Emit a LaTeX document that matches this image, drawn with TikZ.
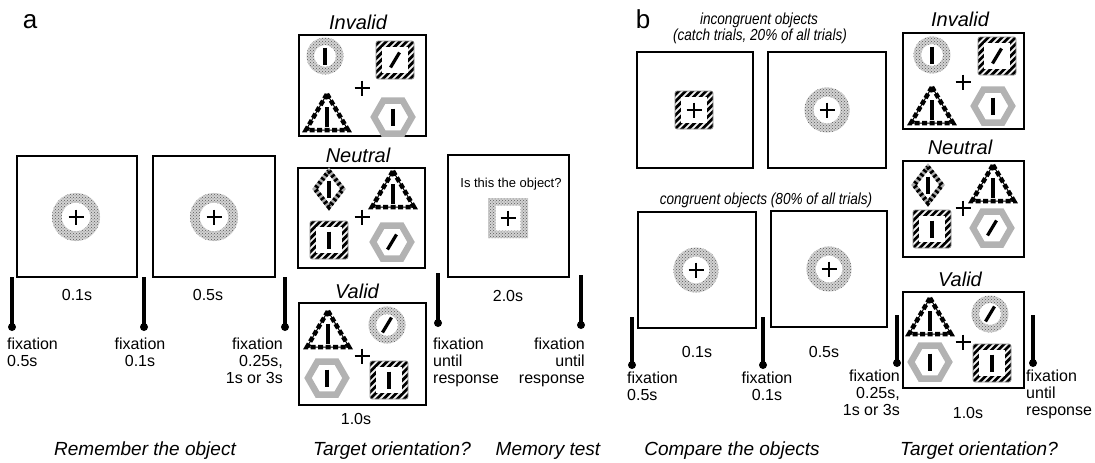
\documentclass[tikz,border=0pt]{standalone}
\usepackage{fontspec}
\setmainfont{Liberation Sans}
\newfontfamily\narrowfont[FakeStretch=0.85]{Liberation Sans}
\usetikzlibrary{patterns}

\tikzset{
  screen/.style={draw, line width=2pt, inner sep=0pt},
  dur/.style={font=\fontsize{16}{17}\selectfont, inner sep=0pt, anchor=base},
  fixtxt/.style={font=\fontsize{16}{17}\selectfont, inner sep=0pt},
  cue/.style={font=\fontsize{20}{22}\selectfont\itshape, inner sep=0pt, anchor=base},
  phase/.style={font=\fontsize{19}{22}\selectfont\itshape, inner sep=0pt, anchor=base},
  note/.style={font=\fontsize{16}{17}\selectfont\narrowfont\itshape, inner sep=0pt, anchor=base},
  fixbar/.style={line width=3.4pt},
  fixdot/.style={circle, fill, inner sep=0pt, minimum size=8pt},
  ringobj/.pic={
    \fill[gray!35, even odd rule] (0,0) circle[radius=18.5pt] (0,0) circle[radius=11pt];
    \fill[pattern=crosshatch dots, pattern color=black!65, even odd rule]
      (0,0) circle[radius=18.5pt] (0,0) circle[radius=11pt];
  },
  stripesq/.pic={
    \begin{scope}
      \clip[rounded corners=2pt] (-19,-19) rectangle (19,19);
      \fill[black!6] (-19,-19) rectangle (19,19);
      \foreach \k in {-6,...,6}
        \draw[line width=2.7pt] (\k*6.8-20,20) -- (\k*6.8+20,-20);
    \end{scope}
    \fill[white] (-13,-13) rectangle (13,13);
    \draw[black!45, line width=0.6pt, rounded corners=2pt] (-19,-19) rectangle (19,19);
  },
  dotsq/.pic={
    \fill[gray!35, even odd rule] (-20,-20) rectangle (20,20) (-12.5,-12.5) rectangle (12.5,12.5);
    \fill[pattern=crosshatch dots, pattern color=black!65, even odd rule]
      (-20,-20) rectangle (20,20) (-12.5,-12.5) rectangle (12.5,12.5);
  },
  triobj/.pic={
    \draw[line width=1pt] (0,-19) -- (21,17) -- (-21,17) -- cycle;
    \draw[line width=4.5pt, dash pattern=on 5pt off 2.5pt] (0,-19) -- (21,17) -- (-21,17) -- cycle;
    \draw[line width=3.2pt] (0,-6) -- (0,14);
  },
  hexobj/.pic={
    \draw[gray!60, line width=6.5pt] (-19,0) -- (-9.5,-16.5) -- (9.5,-16.5) -- (19,0)
      -- (9.5,16.5) -- (-9.5,16.5) -- cycle;
  },
  diaobj/.pic={
    \draw[gray!65, line width=4.5pt] (0,-18) -- (14,0) -- (0,18) -- (-14,0) -- cycle;
    \draw[line width=4.5pt, dash pattern=on 2.5pt off 2.5pt] (0,-18) -- (14,0) -- (0,18) -- (-14,0) -- cycle;
  },
  ibar/.pic={\draw[line width=3.2pt] (0,-8.5) -- (0,8.5);},
  sbar/.pic={\draw[line width=3.2pt] (-4.5,7.5) -- (4.5,-7.5);},
  crossfix/.pic={\draw[line width=1.1pt] (-7.5,0) -- (7.5,0) (0,-7.5) -- (0,7.5);}
}

\begin{document}
\begin{tikzpicture}[x=1pt, y=-1pt]
\useasboundingbox (0,0) rectangle (1095,463);

% ---------------- panel a ----------------
\node[font=\fontsize{26}{28}\selectfont, inner sep=0pt] (la) at (30,22) {a};

% memory screens
\node[screen, minimum width=120pt, minimum height=121pt] (a1) at (77,216.5) {};
\pic[scale=1.3] at (76,217) {ringobj};
\pic at (76,217) {crossfix};
\node[screen, minimum width=122pt, minimum height=121pt] (a2) at (214,216.5) {};
\pic[scale=1.3] at (214,217) {ringobj};
\pic at (214,217) {crossfix};
\node[dur] (ad1) at (77,300) {0.1s};
\node[dur] (ad2) at (208,300) {0.5s};

% Invalid
\node[cue] (ainv) at (358,29) {Invalid};
\node[screen, minimum width=127pt, minimum height=101pt] (ab1) at (362.5,85.5) {};
\pic at (325,56) {ringobj};  \pic at (325,56) {ibar};
\pic at (395,60) {stripesq}; \pic at (395,60) {sbar};
\pic at (327,113) {triobj};
\pic at (393,117) {hexobj};  \pic at (393,117) {ibar};
\pic at (362,88) {crossfix};

% Neutral
\node[cue] (aneu) at (358,162) {Neutral};
\node[screen, minimum width=127pt, minimum height=100pt] (ab2) at (361.5,218) {};
\pic at (329,189) {diaobj};  \pic at (329,189) {ibar};
\pic at (393,190) {triobj};
\pic at (329,240) {stripesq}; \pic at (329,240) {ibar};
\pic at (392,242) {hexobj};  \pic at (392,242) {sbar};
\pic at (362,217) {crossfix};

% Valid
\node[cue] (aval) at (357,298) {Valid};
\node[screen, minimum width=127pt, minimum height=102pt] (ab3) at (362.5,354) {};
\pic at (328,330) {triobj};
\pic at (387,325) {ringobj};  \pic at (387,325) {sbar};
\pic at (327,378) {hexobj};   \pic at (327,378) {ibar};
\pic at (389,380) {stripesq}; \pic at (389,380) {ibar};
\pic at (362,356) {crossfix};
\node[dur] (ad3) at (356,424) {1.0s};

% memory test
\node[screen, minimum width=121pt, minimum height=122pt] (am) at (508.5,216) {};
\node[font=\fontsize{13}{14}\selectfont, inner sep=0pt, anchor=base] (aq) at (511,187) {Is this the object?};
\pic at (508,218) {dotsq};
\pic at (508,218) {crossfix};
\node[dur] (ad4) at (508,301) {2.0s};

% fixation
\coordinate (af1t) at (12,277);  \coordinate (af1b) at (12,327);
\coordinate (af2t) at (144,277); \coordinate (af2b) at (144,327);
\coordinate (af3t) at (285,277); \coordinate (af3b) at (285,327);
\coordinate (af4t) at (438,273); \coordinate (af4b) at (438,323);
\coordinate (af5t) at (581,275); \coordinate (af5b) at (581,325);
\draw[fixbar] (af1t) -- (af1b) node[fixdot] (ad1d) {};
\draw[fixbar] (af2t) -- (af2b) node[fixdot] (ad2d) {};
\draw[fixbar] (af3t) -- (af3b) node[fixdot] (ad3d) {};
\draw[fixbar] (af4t) -- (af4b) node[fixdot] (ad4d) {};
\draw[fixbar] (af5t) -- (af5b) node[fixdot] (ad5d) {};
\node[fixtxt, anchor=north west, align=left] (afx1) at (7,338) {fixation\\0.5s};
\node[fixtxt, anchor=north, align=center] (afx2) at (140,338) {fixation\\0.1s};
\node[fixtxt, anchor=north east, align=right] (afx3) at (283,338) {fixation\\0.25s,\\1s or 3s};
\node[fixtxt, anchor=north west, align=left] (afx4) at (433,338) {fixation\\until\\response};
\node[fixtxt, anchor=north east, align=right] (afx5) at (585,338) {fixation\\until\\response};

\node[phase] (ap1) at (145,455) {Remember the object};
\node[phase] (ap2) at (392,455) {Target orientation?};
\node[phase] (ap3) at (548,455) {Memory test};

% ---------------- panel b ----------------
\node[font=\fontsize{26}{28}\selectfont, inner sep=0pt] (lb) at (643,19) {b};

% incongruent
\node[note] (bn1) at (759,24) {incongruent objects};
\node[note] (bn2) at (760,40) {(catch trials, 20\% of all trials)};
\node[screen, minimum width=116pt, minimum height=116pt] (b1) at (695,110) {};
\pic at (694,110) {stripesq};
\pic at (694,110) {crossfix};
\node[screen, minimum width=118pt, minimum height=116pt] (b2) at (827,110) {};
\pic[scale=1.22] at (827,110) {ringobj};
\pic at (827,110) {crossfix};

% congruent
\node[note] (bn3) at (766,204) {congruent objects (80\% of all trials)};
\node[screen, minimum width=118pt, minimum height=116pt] (b3) at (697,270) {};
\pic[scale=1.22] at (696,270) {ringobj};
\pic at (696,270) {crossfix};
\node[screen, minimum width=116pt, minimum height=116pt] (b4) at (829,269) {};
\pic[scale=1.22] at (829,269) {ringobj};
\pic at (829,269) {crossfix};
\node[dur] (bd1) at (697,357) {0.1s};
\node[dur] (bd2) at (824,357) {0.5s};

% Invalid
\node[cue] (binv) at (960,27) {Invalid};
\node[screen, minimum width=121pt, minimum height=96pt] (bb1) at (963.5,81) {};
\pic at (932,55) {ringobj};  \pic at (932,55) {ibar};
\pic at (997,56) {stripesq}; \pic at (997,56) {sbar};
\pic at (932,106) {triobj};
\pic at (993,106) {hexobj};  \pic at (993,106) {ibar};
\pic at (963,82) {crossfix};

% Neutral
\node[cue] (bneu) at (960,154) {Neutral};
\node[screen, minimum width=121pt, minimum height=96pt] (bb2) at (963.5,209) {};
\pic at (928,185) {diaobj};  \pic at (928,185) {ibar};
\pic at (993,184) {triobj};
\pic at (932,229) {stripesq}; \pic at (932,229) {ibar};
\pic at (992,228) {hexobj};  \pic at (992,228) {sbar};
\pic at (963,208) {crossfix};

% Valid
\node[cue] (bval) at (960,286) {Valid};
\node[screen, minimum width=121pt, minimum height=96pt] (bb3) at (963.5,340) {};
\pic at (930,317) {triobj};
\pic at (990,314) {ringobj};  \pic at (990,314) {sbar};
\pic at (930,362) {hexobj};   \pic at (930,362) {ibar};
\pic at (992,363) {stripesq}; \pic at (992,363) {ibar};
\pic at (963,342) {crossfix};
\node[dur] (bd3) at (968,418) {1.0s};

% fixation
\coordinate (bf1t) at (632,317);  \coordinate (bf1b) at (632,365);
\coordinate (bf2t) at (763,317);  \coordinate (bf2b) at (763,365);
\coordinate (bf3t) at (897,315);  \coordinate (bf3b) at (897,363);
\coordinate (bf4t) at (1033,315); \coordinate (bf4b) at (1033,363);
\draw[fixbar] (bf1t) -- (bf1b) node[fixdot] (bd1d) {};
\draw[fixbar] (bf2t) -- (bf2b) node[fixdot] (bd2d) {};
\draw[fixbar] (bf3t) -- (bf3b) node[fixdot] (bd3d) {};
\draw[fixbar] (bf4t) -- (bf4b) node[fixdot] (bd4d) {};
\node[fixtxt, anchor=north west, align=left] (bfx1) at (627,372) {fixation\\0.5s};
\node[fixtxt, anchor=north, align=center] (bfx2) at (767,372) {fixation\\0.1s};
\node[fixtxt, anchor=north east, align=right] (bfx3) at (900,370) {fixation\\0.25s,\\1s or 3s};
\node[fixtxt, anchor=north west, align=left] (bfx4) at (1026,370) {fixation\\until\\response};

\node[phase] (bp1) at (732,455) {Compare the objects};
\node[phase] (bp2) at (979,455) {Target orientation?};
\end{tikzpicture}
\end{document}
